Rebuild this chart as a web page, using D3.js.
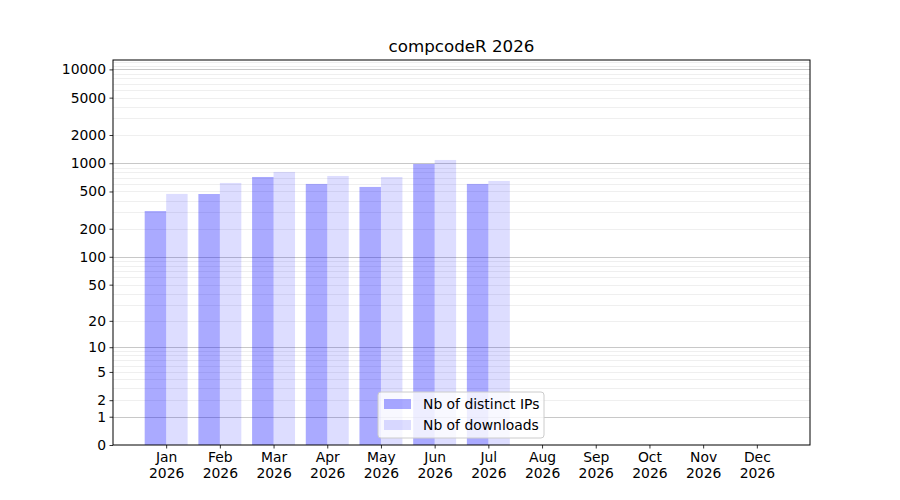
<!DOCTYPE html>
<html>
<head>
<meta charset="utf-8">
<script src="https://cdn.jsdelivr.net/npm/d3@7"></script>
<style>
body { margin: 0; background: #fff; }
text { font-family: "DejaVu Sans", sans-serif; fill: #000; }
</style>
</head>
<body>
<div id="chart"></div>
<script>
var months = ['Jan', 'Feb', 'Mar', 'Apr', 'May', 'Jun', 'Jul', 'Aug', 'Sep', 'Oct', 'Nov', 'Dec'];
var year = '2026';
var distinct_ips = [309, 470, 714, 602, 559, 983, 602];
var downloads = [471, 617, 808, 732, 714, 1084, 648];
var y_ticks = [0, 1, 2, 5, 10, 20, 50, 100, 200, 500, 1000, 2000, 5000, 10000];
var series_names = ['Nb of distinct IPs', 'Nb of downloads'];
var title = 'compcodeR 2026';

var chart_width = 900;
var chart_height = 500;
var pad_left = 113, pad_right = 810, pad_top = 60, pad_bottom = 445;

var svg = d3.select('#chart')
	.append('svg')
	.attr('width', chart_width)
	.attr('height', chart_height);

// scales
var x_scale = d3.scaleLinear()
	.domain([-0.99, 11.99])
	.range([pad_left, pad_right]);
var y_scale = d3.scaleSymlog()
	.constant(1)
	.domain([0, 12590])
	.range([pad_bottom, pad_top]);
var bar_w = x_scale(0.4) - x_scale(0);

// grid lines: minor first, then major
var minor = [];
[1, 10, 100, 1000].forEach(function (d) {
	for (var k = 2; k <= 9; k++) minor.push(d * k);
});
minor.push(11000, 12000);
svg.append('g')
	.selectAll('line')
	.data(minor)
	.enter()
	.append('line')
	.attr('x1', pad_left)
	.attr('x2', pad_right)
	.attr('y1', function (d) { return Math.round(y_scale(d)) + 0.5; })
	.attr('y2', function (d) { return Math.round(y_scale(d)) + 0.5; })
	.attr('stroke', '#ebebeb')
	.attr('stroke-width', 0.8);
svg.append('g')
	.selectAll('line')
	.data([1, 10, 100, 1000, 10000])
	.enter()
	.append('line')
	.attr('x1', pad_left)
	.attr('x2', pad_right)
	.attr('y1', function (d) { return Math.round(y_scale(d)) + 0.5; })
	.attr('y2', function (d) { return Math.round(y_scale(d)) + 0.5; })
	.attr('stroke', '#c8c8c8')
	.attr('stroke-width', 1);

// bars
svg.append('g')
	.selectAll('rect')
	.data(distinct_ips)
	.enter()
	.append('rect')
	.attr('x', function (d, i) { return x_scale(i) - bar_w; })
	.attr('y', function (d) { return y_scale(d); })
	.attr('width', bar_w)
	.attr('height', function (d) { return pad_bottom - y_scale(d); })
	.attr('fill', 'blue')
	.attr('fill-opacity', 0.333);
svg.append('g')
	.selectAll('rect')
	.data(downloads)
	.enter()
	.append('rect')
	.attr('x', function (d, i) { return x_scale(i); })
	.attr('y', function (d) { return y_scale(d); })
	.attr('width', bar_w)
	.attr('height', function (d) { return pad_bottom - y_scale(d); })
	.attr('fill', 'blue')
	.attr('fill-opacity', 0.133);

// axes
var x_axis = d3.axisBottom(x_scale)
	.tickValues(d3.range(12))
	.tickSize(3.5)
	.tickPadding(3.5)
	.tickFormat(function (i) { return months[i]; });
var gx = svg.append('g')
	.attr('transform', 'translate(0,' + pad_bottom + ')')
	.call(x_axis);
gx.selectAll('text')
	.style('font-size', '13.9px')
	.each(function () {
		var t = d3.select(this);
		var m = t.text();
		t.text(null);
		t.append('tspan').attr('x', 0).attr('dy', '0.71em').text(m);
		t.append('tspan').attr('x', 0).attr('dy', '1.18em').text(year);
	})
	.attr('dy', null);

var y_axis = d3.axisLeft(y_scale)
	.tickValues(y_ticks)
	.tickSize(3.5)
	.tickPadding(3.5)
	.tickFormat(d3.format('d'));
var gy = svg.append('g')
	.attr('transform', 'translate(' + pad_left + ',0)')
	.call(y_axis);
gy.selectAll('text').style('font-size', '13.9px');

[gx, gy].forEach(function (g) {
	g.select('.domain').remove();
	g.selectAll('line').attr('stroke', '#000').attr('stroke-width', 0.8);
	g.selectAll('text').style('font-family', '"DejaVu Sans", sans-serif').attr('fill', '#000');
});

// frame
svg.append('rect')
	.attr('x', pad_left)
	.attr('y', pad_top)
	.attr('width', pad_right - pad_left)
	.attr('height', pad_bottom - pad_top)
	.attr('fill', 'none')
	.attr('stroke', '#000')
	.attr('stroke-width', 1);

// title
svg.append('text')
	.attr('x', (pad_left + pad_right) / 2)
	.attr('y', 52)
	.attr('text-anchor', 'middle')
	.style('font-size', '16.7px')
	.text(title);

// legend
var legend = svg.append('g').attr('transform', 'translate(378,392)');
legend.append('rect')
	.attr('width', 166)
	.attr('height', 46)
	.attr('rx', 3)
	.attr('fill', '#fff')
	.attr('fill-opacity', 0.8)
	.attr('stroke', '#cccccc')
	.attr('stroke-width', 1);
var opac = [0.333, 0.133];
series_names.forEach(function (name, i) {
	legend.append('rect')
		.attr('x', 6)
		.attr('y', 7 + i * 21)
		.attr('width', 27)
		.attr('height', 10)
		.attr('fill', 'blue')
		.attr('fill-opacity', opac[i]);
	legend.append('text')
		.attr('x', 45)
		.attr('y', 17 + i * 21)
		.style('font-size', '13.9px')
		.text(name);
});
</script>
</body>
</html>
